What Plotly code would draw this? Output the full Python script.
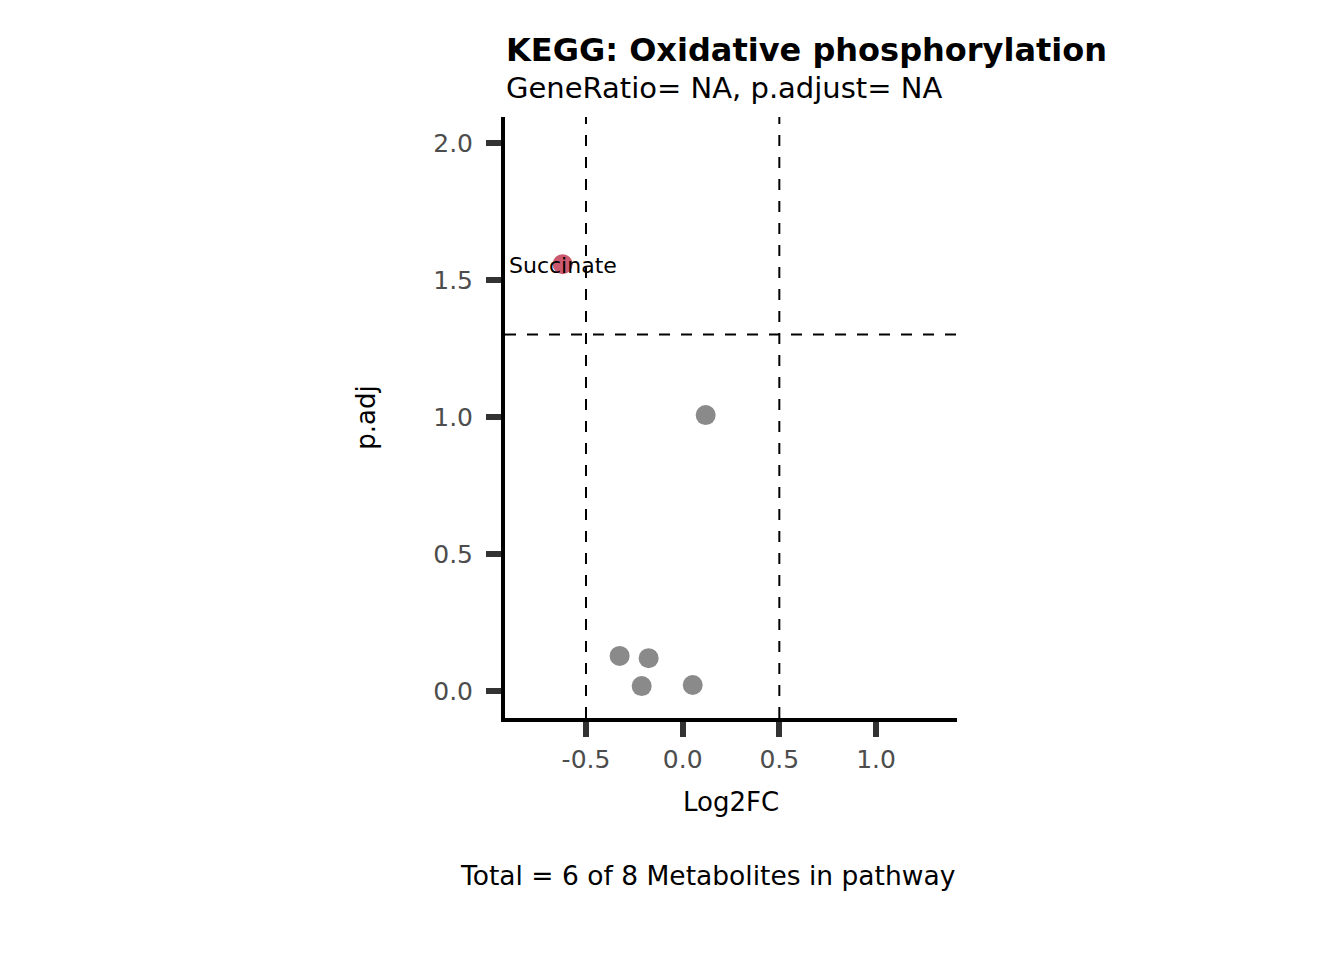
import plotly.graph_objects as go

metabolites = ["Succinate", "M2", "M3", "M4", "M5", "M6"]
log2fc = [-0.621, 0.119, -0.326, -0.176, -0.212, 0.052]
neglog_padj = [1.558, 1.007, 0.128, 0.120, 0.018, 0.022]
significant = [True, False, False, False, False, False]
labels = ["Succinate", "", "", "", "", ""]

fc_cut = [-0.5, 0.5]
p_cut = 1.301

x_range = [-0.919, 1.419]
y_range = [-0.0985, 2.095]
x_ticks = [-0.5, 0.0, 0.5, 1.0]
x_ticktext = ["-0.5", "0.0", "0.5", "1.0"]
y_ticks = [0.0, 0.5, 1.0, 1.5, 2.0]
y_ticktext = ["0.0", "0.5", "1.0", "1.5", "2.0"]

FONT = "DejaVu Sans"
RED = "#CC5A6E"
GREY = "#8A8A8A"
DASH = "11px,11px"

colors = [RED if s else GREY for s in significant]

fig = go.Figure()

# dashed threshold lines
for v in fc_cut:
    fig.add_trace(go.Scatter(x=[v, v], y=y_range, mode="lines",
                             line=dict(color="black", width=2, dash=DASH),
                             hoverinfo="skip", showlegend=False))
fig.add_trace(go.Scatter(x=x_range, y=[p_cut, p_cut], mode="lines",
                         line=dict(color="black", width=2, dash=DASH),
                         hoverinfo="skip", showlegend=False))

fig.add_trace(go.Scatter(x=log2fc, y=neglog_padj, mode="markers",
                         marker=dict(size=20, color=colors, line=dict(width=0)),
                         text=metabolites, showlegend=False))

label_annotations = [
    dict(text=lab, x=xv, y=yv, xref="x", yref="y", showarrow=False,
         xanchor="center", yanchor="middle", yshift=-1,
         font=dict(family=FONT, size=22, color="black"))
    for lab, xv, yv in zip(labels, log2fc, neglog_padj) if lab
]

fig.update_xaxes(range=x_range, tickvals=x_ticks, ticktext=x_ticktext,
                 showgrid=False, zeroline=False, showline=True, linecolor="black",
                 linewidth=4, ticks="outside", ticklen=15, tickwidth=5.5, tickcolor="#333333",
                 ticklabelstandoff=1,
                 tickfont=dict(family=FONT, size=25, color="#4D4D4D"),
                 title=dict(text="Log2FC", font=dict(family=FONT, size=26, color="black"), standoff=21))
fig.update_yaxes(range=y_range, tickvals=y_ticks, ticktext=y_ticktext,
                 showgrid=False, zeroline=False, showline=True, linecolor="black",
                 linewidth=4, ticks="outside", ticklen=15, tickwidth=5.5, tickcolor="#333333",
                 ticklabelstandoff=8,
                 tickfont=dict(family=FONT, size=25, color="#4D4D4D"),
                 title=dict(text="p.adj", font=dict(family=FONT, size=26, color="black"), standoff=51))

fig.update_layout(
    width=1344, height=960,
    margin=dict(l=505, r=387, t=117, b=242),
    paper_bgcolor="white", plot_bgcolor="white",
    font=dict(family=FONT),
    annotations=label_annotations + [
        dict(text="<b>KEGG: Oxidative phosphorylation</b>", xref="paper", yref="paper",
             x=0, y=1, xanchor="left", yanchor="middle", yshift=67, xshift=-1,
             showarrow=False, font=dict(family=FONT, size=32, color="black")),
        dict(text="GeneRatio= NA, p.adjust= NA", xref="paper", yref="paper",
             x=0, y=1, xanchor="left", yanchor="middle", yshift=29, xshift=-1,
             showarrow=False, font=dict(family=FONT, size=29, color="black")),
        dict(text="Total = 6 of 8 Metabolites in pathway", xref="paper", yref="paper",
             x=1, y=0, xanchor="right", yanchor="middle", yshift=-157,
             showarrow=False, font=dict(family=FONT, size=26.5, color="black")),
    ],
)

fig.write_html("out.html")
